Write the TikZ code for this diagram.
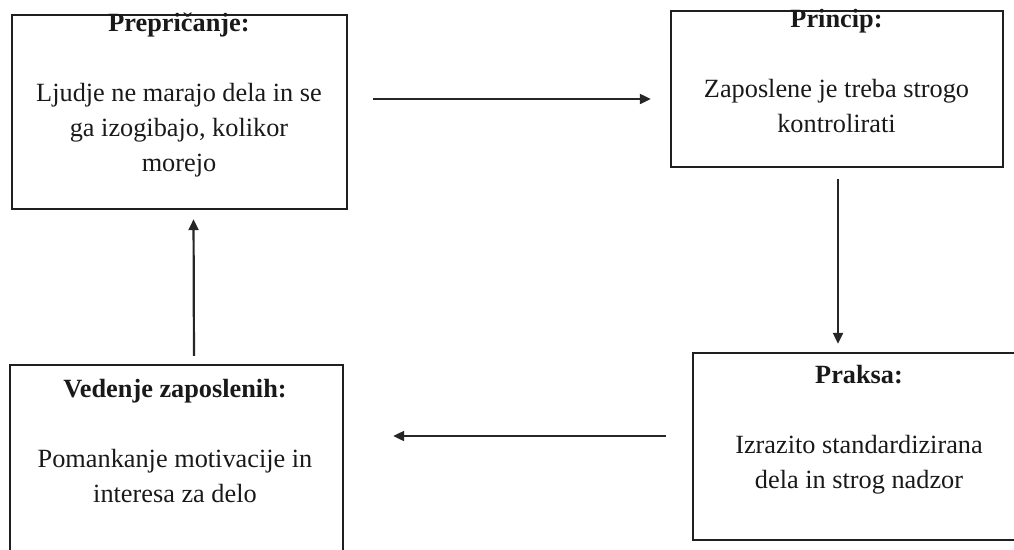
\documentclass[tikz,border=0pt]{standalone}
\usepackage{fontspec}
\setmainfont{Liberation Serif}
\usetikzlibrary{arrows.meta}
\begin{document}
\begin{tikzpicture}[x=1pt,y=-1pt,
  box/.style={draw=black!88, line width=2.4pt, inner sep=0pt},
  txt/.style={align=center, inner sep=0pt, text=black!90, font=\fontsize{26.3}{35}\selectfont},
  conn/.style={draw=black!85, line width=2.2pt, -{Triangle[length=11pt,width=10pt]}}]
\path[use as bounding box] (0,0) rectangle (1014,549);
\clip (0,0) rectangle (1014,549);
% boxes
\node[box, minimum width=335pt, minimum height=194pt] (b1) at (179.5,112) {};
\node[box, minimum width=332pt, minimum height=156pt] (b2) at (837,89) {};
\node[box, minimum width=332pt, minimum height=187pt] (b3) at (859,446.5) {};
\node[box, minimum width=333pt, minimum height=195pt] (b4) at (176.5,462.5) {};
% texts (anchored at the baseline of their last line)
\node[txt, anchor=base] (t1) at (179,171) {\textbf{Prepričanje:}\\[35pt]Ljudje ne marajo dela in se\\ga izogibajo, kolikor\\morejo};
\node[txt, anchor=base] (t2) at (836.5,132) {\textbf{Princip:}\\[35pt]Zaposlene je treba strogo\\kontrolirati};
\node[txt, anchor=base] (t3) at (859,488) {\textbf{Praksa:}\\[35pt]Izrazito standardizirana\\dela in strog nadzor};
\node[txt, anchor=base] (t4) at (175,502) {\textbf{Vedenje zaposlenih:}\\[35pt]Pomankanje motivacije in\\interesa za delo};
% connectors
\draw[conn, shorten <=25pt, shorten >=19pt] ([yshift=13pt]b1.east) -- ([yshift=-10pt]b2.west);
\draw[conn, shorten <=11pt, shorten >=8pt] ([xshift=1pt]b2.south) -- ([xshift=-21pt]b3.north);
\draw[conn, shorten <=26pt, shorten >=49pt] ([yshift=10.5pt]b3.west) -- ([yshift=26.5pt]b4.east);
\draw[conn, shorten <=8pt, shorten >=9pt] ([xshift=17.5pt]b4.north) -- ([xshift=14pt]b1.south);
\end{tikzpicture}
\end{document}
